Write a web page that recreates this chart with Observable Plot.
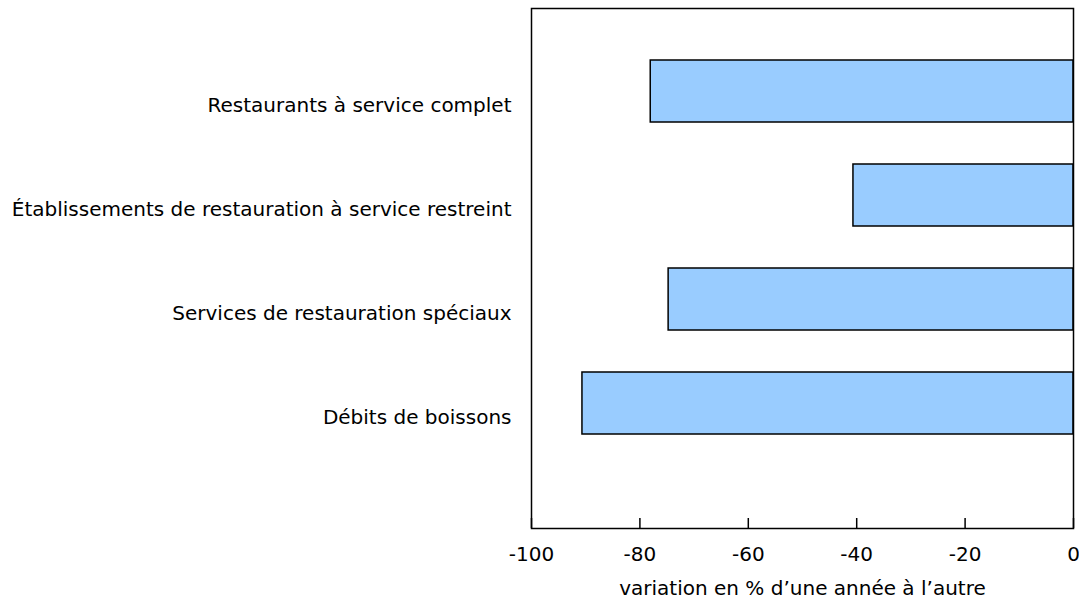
<!DOCTYPE html>
<html>
<head>
<meta charset="utf-8">
<script src="https://cdn.jsdelivr.net/npm/d3@7"></script>
<script src="https://cdn.jsdelivr.net/npm/@observablehq/plot@0.6"></script>
<style>
  body { margin: 0; background: #fff; }
</style>
</head>
<body>
<div id="chart"></div>
<script>
const categories = [
  "Restaurants à service complet",
  "Établissements de restauration à service restreint",
  "Services de restauration spéciaux",
  "Débits de boissons"
];
const values = [-78.0, -40.6, -74.7, -90.6];
const xTicks = [-100, -80, -60, -40, -20, 0];
const xLabel = "variation en % d’une année à l’autre";

const data = categories.map((c, i) => ({category: c, value: values[i]}));

const chart = Plot.plot({
  width: 1079,
  height: 600,
  marginLeft: 531,
  marginRight: 6,
  marginTop: 8,
  marginBottom: 72,
  style: {fontFamily: "'DejaVu Sans', Verdana, sans-serif", fontSize: "20px", color: "#000", background: "#fff"},
  x: {domain: [-100, 0], label: null},
  y: {domain: categories, range: [39, 455], paddingInner: 0.404, paddingOuter: 0.202, label: null},
  marks: [
    Plot.barX(data, {x1: 0, x2: "value", y: "category", fill: "#99ccff", stroke: "#000", strokeWidth: 1.5}),
    Plot.frame({stroke: "#000", strokeWidth: 1.5}),
    Plot.axisX({ticks: xTicks, tickSize: -10, text: null, label: null, strokeWidth: 1.5}),
    Plot.axisX({ticks: xTicks, tickFormat: d => String(d), tickSize: 0, tickPadding: 18, label: null, fontSize: 20}),
    Plot.axisY({tickSize: 0, tickPadding: 20, dy: 14, label: null, fontSize: 20}),
    Plot.text([xLabel], {frameAnchor: "bottom", lineAnchor: "bottom", dy: 66, fontSize: 20, text: d => d})
  ]
});
document.getElementById("chart").appendChild(chart);
</script>
</body>
</html>
